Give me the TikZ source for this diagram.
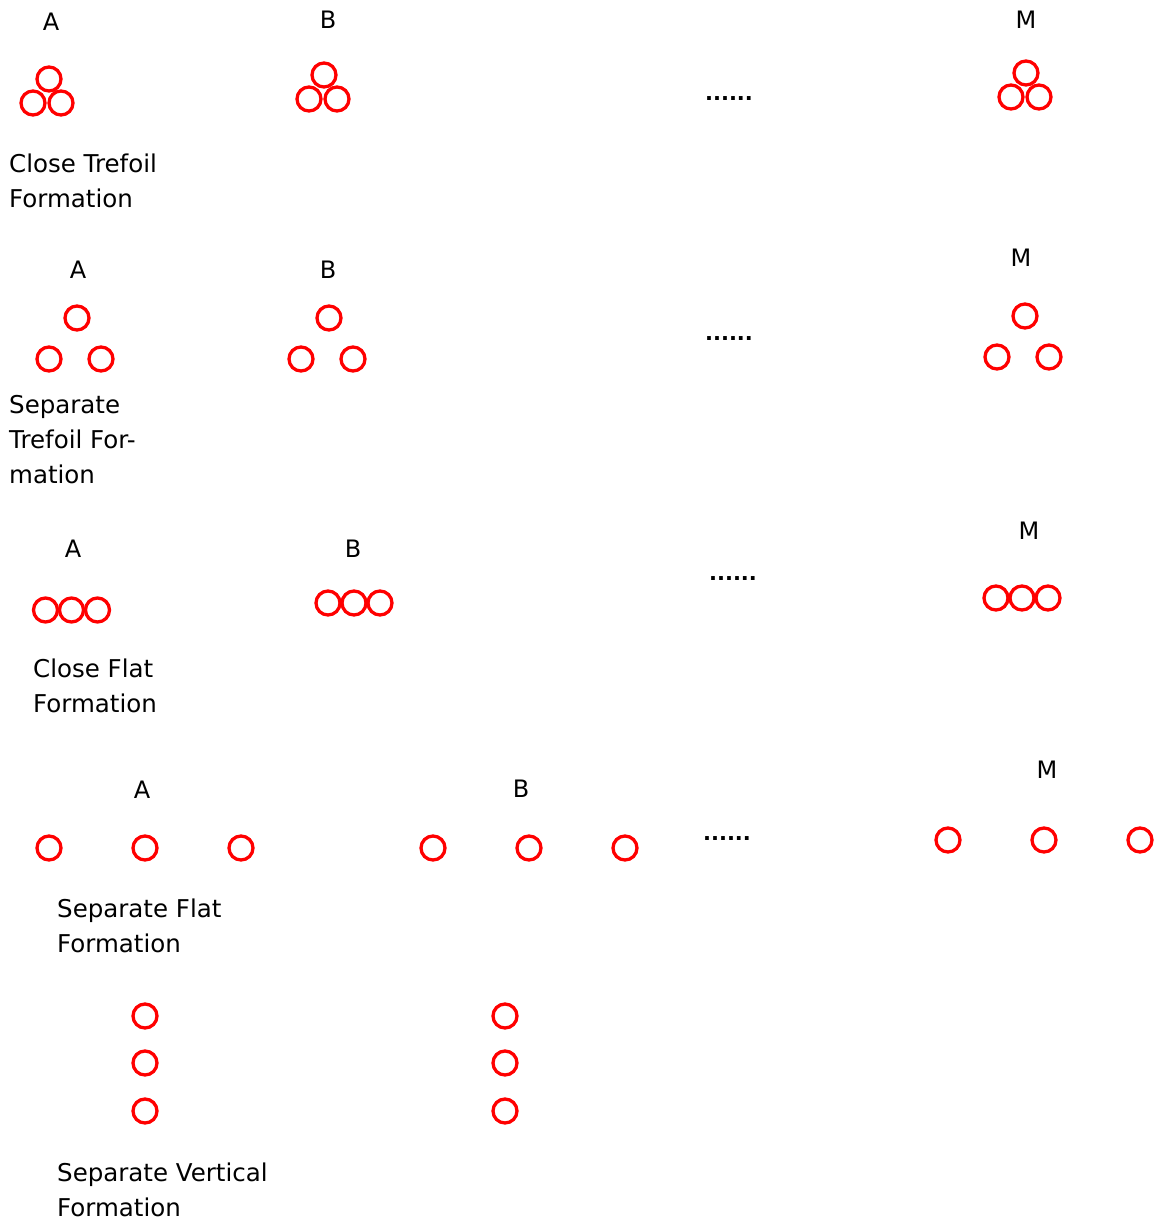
\documentclass[tikz,border=0pt]{standalone}
\usepackage{fontspec}
\setmainfont{DejaVu Sans}
\begin{document}
\begin{tikzpicture}[x=1pt,y=-1pt,
  cab/.style={circle,draw=red,line width=3.3pt,minimum size=24pt,inner sep=0pt},
  lbl/.style={font=\fontsize{24}{28}\selectfont,inner sep=0pt},
  dotstxt/.style={font=\fontsize{21}{24}\selectfont\bfseries,inner sep=0pt},
  captxt/.style={font=\fontsize{24.5}{35}\selectfont,align=left,anchor=north west,inner sep=0pt}]
\useasboundingbox (0,0) rectangle (1157,1221);
% Row 1: close trefoil
\node[lbl] (a1) at (51,22) {A};
\node[lbl] (b1) at (328,20) {B};
\node[lbl] (m1) at (1026,20) {M};
\node[cab] (a1t) at (49,79) {};
\node[cab] (a1l) at (33,103) {};
\node[cab] (a1r) at (61,103) {};
\node[cab] (b1t) at (324,75) {};
\node[cab] (b1l) at (309,99) {};
\node[cab] (b1r) at (337,99) {};
\node[cab] (m1t) at (1026,73) {};
\node[cab] (m1l) at (1011,97) {};
\node[cab] (m1r) at (1039,97) {};
\node[dotstxt] (d1) at (729,99) {......};
\node[captxt] (t1) at (9,154) {Close Trefoil\\Formation};
% Row 2: separate trefoil
\node[lbl] (a2) at (78,270) {A};
\node[lbl] (b2) at (328,270) {B};
\node[lbl] (m2) at (1021,258) {M};
\node[cab] (a2t) at (77,318) {};
\node[cab] (a2l) at (49,359) {};
\node[cab] (a2r) at (101,359) {};
\node[cab] (b2t) at (329,318) {};
\node[cab] (b2l) at (301,359) {};
\node[cab] (b2r) at (353,359) {};
\node[cab] (m2t) at (1025,316) {};
\node[cab] (m2l) at (997,357) {};
\node[cab] (m2r) at (1049,357) {};
\node[dotstxt] (d2) at (729,339) {......};
\node[captxt] (t2) at (9,395) {Separate\\Trefoil For-\\mation};
% Row 3: close flat
\node[lbl] (a3) at (73,549) {A};
\node[lbl] (b3) at (353,549) {B};
\node[lbl] (m3) at (1029,531) {M};
\node[cab] (a3a) at (45.5,610) {};
\node[cab] (a3b) at (71.5,610) {};
\node[cab] (a3c) at (97.5,610) {};
\node[cab] (b3a) at (328,603) {};
\node[cab] (b3b) at (354,603) {};
\node[cab] (b3c) at (380,603) {};
\node[cab] (m3a) at (996,598) {};
\node[cab] (m3b) at (1022,598) {};
\node[cab] (m3c) at (1048,598) {};
\node[dotstxt] (d3) at (733,579) {......};
\node[captxt] (t3) at (33,659) {Close Flat\\Formation};
% Row 4: separate flat
\node[lbl] (a4) at (142,790) {A};
\node[lbl] (b4) at (521,789) {B};
\node[lbl] (m4) at (1047,770) {M};
\node[cab] (a4a) at (49,848) {};
\node[cab] (a4b) at (145,848) {};
\node[cab] (a4c) at (241,848) {};
\node[cab] (b4a) at (433,848) {};
\node[cab] (b4b) at (529,848) {};
\node[cab] (b4c) at (625,848) {};
\node[cab] (m4a) at (948,840) {};
\node[cab] (m4b) at (1044,840) {};
\node[cab] (m4c) at (1140,840) {};
\node[dotstxt] (d4) at (727,839) {......};
\node[captxt] (t4) at (57,899) {Separate Flat\\Formation};
% Row 5: separate vertical
\node[cab] (a5a) at (145,1016) {};
\node[cab] (a5b) at (145,1063) {};
\node[cab] (a5c) at (145,1111) {};
\node[cab] (b5a) at (505,1016) {};
\node[cab] (b5b) at (505,1063) {};
\node[cab] (b5c) at (505,1111) {};
\node[captxt] (t5) at (57,1163) {Separate Vertical\\Formation};
\end{tikzpicture}
\end{document}
